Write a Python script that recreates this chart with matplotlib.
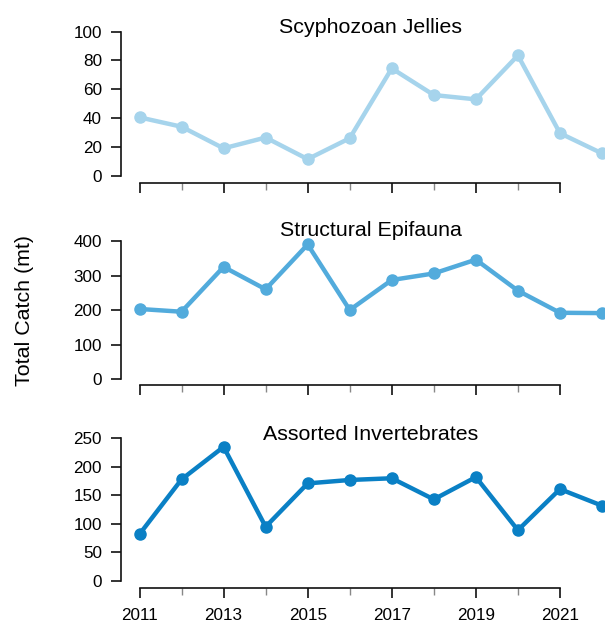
import matplotlib
matplotlib.use("Agg")
import matplotlib.pyplot as plt
import numpy as np

plt.rcParams['font.family'] = ['Liberation Sans', 'DejaVu Sans']

years = np.arange(2011, 2023)
jellies = [40.5, 34, 19, 26.5, 11.5, 26, 74.5, 56, 53, 83.5, 29.5, 15.5]
epifauna = [203, 195, 325, 260, 390, 200, 287, 306, 346, 256, 192, 191]
invert = [82, 178, 235, 95, 171, 177, 180, 143, 182, 89, 161, 132]

titles = ['Scyphozoan Jellies', 'Structural Epifauna', 'Assorted Invertebrates']
series = [jellies, epifauna, invert]
colors = ['#a6d4ec', '#52abdc', '#0a80c5']
yticks = [np.arange(0, 101, 20), np.arange(0, 401, 100), np.arange(0, 251, 50)]
ylims = [(-4.86, 104), (-17.4, 416), (-12.8, 260)]
# panel pixel boxes (top, bottom) and title baselines, from top of figure
boxes = [(25.9, 182.7), (235.5, 385.0), (432.6, 588.3)]
title_base = [32.7, 235.7, 439.7]

W, H = 605, 626
fig = plt.figure(figsize=(W / 100, H / 100), dpi=100)

xl, xr = 121.0, 620.5
for i in range(3):
    top, bot = boxes[i]
    ax = fig.add_axes([xl / W, 1 - bot / H, (xr - xl) / W, (bot - top) / H])
    ax.set_facecolor('none')
    ax.plot(years, series[i], color=colors[i], lw=3.2, marker='o', ms=8,
            mec=colors[i], mfc=colors[i], solid_joinstyle='round')
    ax.set_xlim(2010.56, 2022.44)
    ax.set_ylim(*ylims[i])
    for s in ['top', 'right']:
        ax.spines[s].set_visible(False)
    ax.spines['left'].set_bounds(yticks[i][0], yticks[i][-1])
    ax.spines['bottom'].set_bounds(2011, 2021)
    for s in ['left', 'bottom']:
        ax.spines[s].set_linewidth(1.2)
        ax.spines[s].set_color('#111111')
    ax.set_yticks(yticks[i])
    ax.set_xticks(np.arange(2011, 2022, 2))
    ax.set_xticks(np.arange(2012, 2021, 2), minor=True)
    ax.tick_params(axis='y', length=7.2, width=1.2, color='#111111',
                   labelsize=12.3, pad=6.5, labelcolor='#000000')
    ax.tick_params(axis='x', which='major', length=7.2, width=1.2,
                   color='#111111', labelsize=12.3, pad=7,
                   labelcolor='#000000', labelbottom=(i == 2))
    ax.tick_params(axis='x', which='minor', length=5, width=1.0,
                   color='#888888')
    fig.text(370.5 / W, 1 - title_base[i] / H, titles[i], ha='center',
             va='baseline', fontsize=15.4, color='#000000')

fig.text(25 / W, 1 - 310 / H, 'Total Catch (mt)', rotation=90, ha='center',
         va='center', fontsize=15.4, color='#000000')

fig.savefig('out.png', dpi=100)
